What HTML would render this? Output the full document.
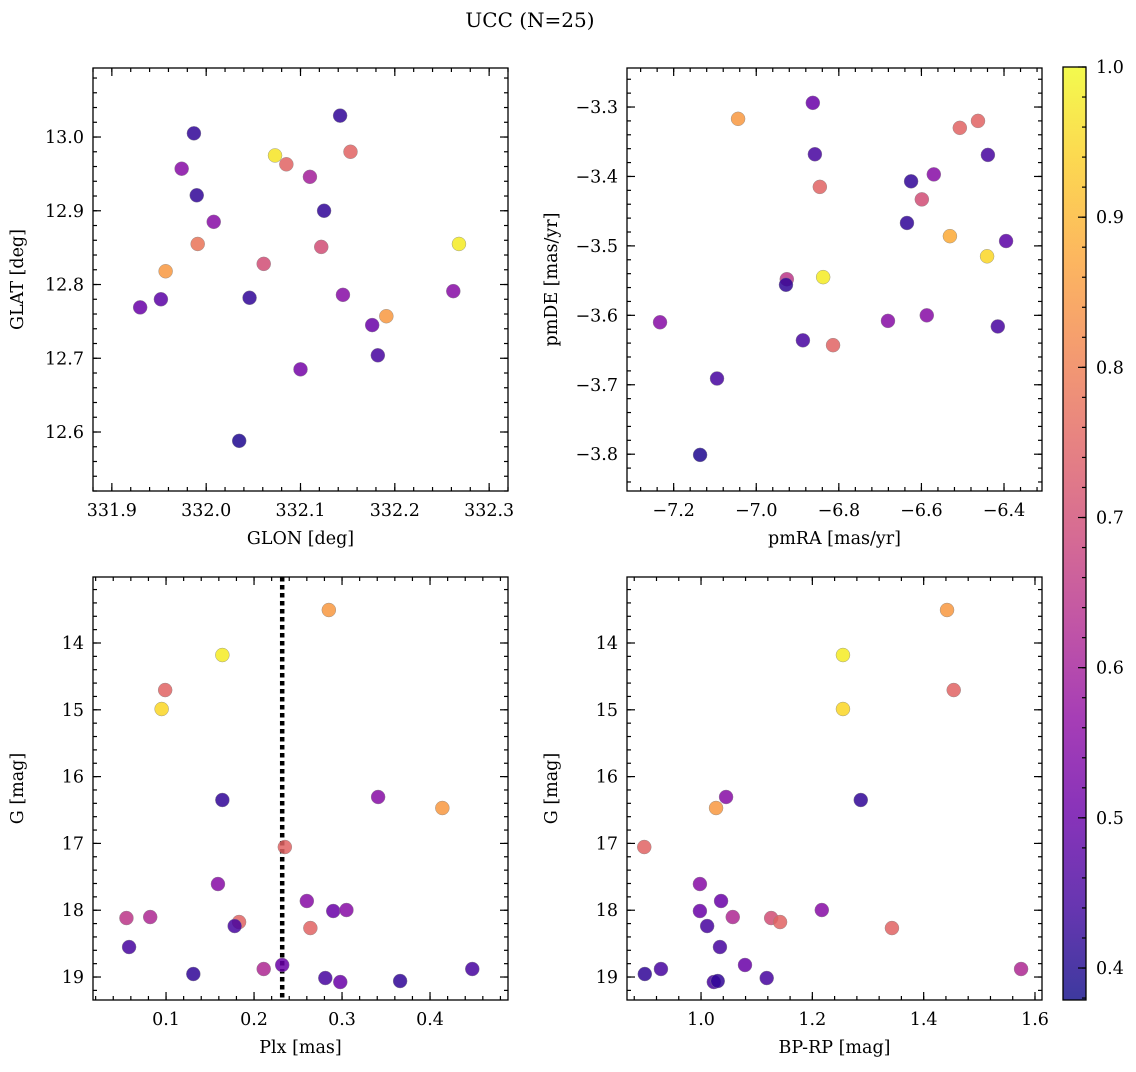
<!DOCTYPE html>
<html><head><meta charset="utf-8">
<style>
html,body{margin:0;padding:0;background:#fff;}
svg text{font-family:"DejaVu Serif","Liberation Serif",serif;fill:#000;}
</style></head>
<body>
<svg id="chart" width="1136" height="1067" viewBox="0 0 1136 1067" xmlns="http://www.w3.org/2000/svg">
<defs>
<linearGradient id="cbgrad" x1="0" y1="1" x2="0" y2="0">
<stop offset="0" stop-color="#0d0887"/><stop offset="0.1" stop-color="#41049d"/><stop offset="0.2" stop-color="#6a00a8"/><stop offset="0.3" stop-color="#8f0da4"/><stop offset="0.4" stop-color="#b12a90"/><stop offset="0.5" stop-color="#cc4778"/><stop offset="0.6" stop-color="#e16462"/><stop offset="0.7" stop-color="#f2844b"/><stop offset="0.8" stop-color="#fca636"/><stop offset="0.9" stop-color="#fcce25"/><stop offset="1" stop-color="#f0f921"/>
</linearGradient>
</defs>
<text x="530" y="27" font-size="20" text-anchor="middle">UCC (N=25)</text>
</svg>
<script>
// ---- data ----
const glon=[331.987,331.974,331.990,332.008,331.991,331.957,331.930,331.952,332.046,332.035,332.073,332.085,332.110,332.061,332.100,332.142,332.153,332.125,332.122,332.145,332.176,332.182,332.191,332.268,332.262];
const glat=[13.005,12.957,12.921,12.885,12.855,12.818,12.769,12.780,12.782,12.588,12.975,12.963,12.946,12.828,12.685,13.029,12.980,12.900,12.851,12.786,12.745,12.704,12.757,12.855,12.791];
const probP1=[0.42,0.55,0.42,0.55,0.78,0.85,0.5,0.48,0.42,0.4,0.97,0.75,0.6,0.7,0.52,0.42,0.75,0.42,0.7,0.55,0.5,0.45,0.85,0.98,0.55];
const pmra=[-6.863,-7.044,-6.858,-6.846,-6.625,-6.570,-6.599,-6.635,-6.507,-6.463,-6.439,-6.531,-6.395,-6.441,-6.838,-6.926,-6.928,-7.233,-6.887,-6.681,-6.587,-6.814,-6.415,-7.095,-7.136];
const pmde=[-3.294,-3.317,-3.368,-3.415,-3.407,-3.397,-3.433,-3.467,-3.330,-3.320,-3.369,-3.486,-3.493,-3.515,-3.545,-3.548,-3.556,-3.610,-3.636,-3.608,-3.600,-3.643,-3.616,-3.691,-3.801];
const probP2=[0.5,0.85,0.45,0.75,0.42,0.55,0.7,0.42,0.75,0.75,0.45,0.88,0.48,0.95,0.98,0.65,0.42,0.55,0.45,0.55,0.55,0.75,0.45,0.45,0.4];
const plx=[0.285,0.164,0.099,0.095,0.164,0.341,0.414,0.235,0.159,0.055,0.082,0.183,0.178,0.260,0.290,0.305,0.264,0.058,0.131,0.211,0.232,0.281,0.298,0.366,0.448];
const gmag3=[13.506,14.180,14.704,14.988,16.350,16.305,16.470,17.054,17.608,18.117,18.102,18.177,18.237,17.862,18.012,17.997,18.267,18.551,18.955,18.880,18.820,19.015,19.075,19.060,18.880];
const probP3=[0.85,0.98,0.75,0.95,0.42,0.55,0.85,0.75,0.55,0.65,0.62,0.75,0.45,0.55,0.5,0.55,0.75,0.45,0.42,0.62,0.5,0.45,0.5,0.42,0.45];
const plxCut=[0.232];
const bprp=[1.442,1.255,1.454,1.255,1.287,1.045,1.027,0.898,0.998,1.126,1.057,1.142,1.011,1.036,0.998,1.217,1.343,1.034,0.899,1.575,1.079,1.118,1.023,1.030,0.928];
const gmag4=[13.506,14.180,14.704,14.988,16.350,16.305,16.470,17.054,17.608,18.117,18.102,18.177,18.237,17.862,18.012,17.997,18.267,18.551,18.955,18.880,18.820,19.015,19.075,19.060,18.880];
const probP4=[0.85,0.98,0.75,0.95,0.42,0.55,0.85,0.75,0.55,0.7,0.62,0.75,0.45,0.5,0.5,0.55,0.75,0.45,0.42,0.62,0.5,0.45,0.45,0.42,0.45];
const cbTicks=[0.4,0.5,0.6,0.7,0.8,0.9,1.0];

const NS="http://www.w3.org/2000/svg";
const svg=document.getElementById('chart');
function mk(tag,attrs,parent){const e=document.createElementNS(NS,tag);for(const k in attrs)e.setAttribute(k,attrs[k]);(parent||svg).appendChild(e);return e;}
const stops=[[13,8,135],[65,4,157],[106,0,168],[143,13,164],[177,42,144],[204,71,120],[225,100,98],[242,132,75],[252,166,54],[252,206,37],[240,249,33]];
const VMIN=0.3787,VMAX=1.0;
function plasma(v){let t=(v-VMIN)/(VMAX-VMIN);t=Math.max(0,Math.min(1,t))*10;const i=Math.min(9,Math.floor(t)),f=t-i;const a=stops[i],b=stops[i+1];return 'rgb('+a.map((c,k)=>Math.round(c+(b[k]-c)*f)).join(',')+')';}
function fmt(v,d){return (v<0?'\u2212':'')+Math.abs(v).toFixed(d);}
const FS=17.5;

function panel(o){
  const {L,T,R,B,xd,yd,inv}=o;
  const sx=v=>L+(v-xd[0])/(xd[1]-xd[0])*(R-L);
  const sy=inv?(v=>T+(v-yd[0])/(yd[1]-yd[0])*(B-T)):(v=>B-(v-yd[0])/(yd[1]-yd[0])*(B-T));
  const g=mk('g',{});
  
  
  function ticks(step,lo,hi,len,isX,label,dec){
    const n0=Math.ceil(lo/step-1e-6),n1=Math.floor(hi/step+1e-6);
    for(let n=n0;n<=n1;n++){const v=n*step;
      if(isX){const x=sx(v);mk('line',{x1:x,y1:B,x2:x,y2:B-len,stroke:'#000','stroke-width':1.2},g);mk('line',{x1:x,y1:T,x2:x,y2:T+len,stroke:'#000','stroke-width':1.2},g);
        if(label){const t=mk('text',{x:x,y:B+25,'font-size':FS,'text-anchor':'middle'},g);t.textContent=fmt(v,dec);}}
      else{const y=sy(v);mk('line',{x1:L,y1:y,x2:L+len,y2:y,stroke:'#000','stroke-width':1.2},g);mk('line',{x1:R,y1:y,x2:R-len,y2:y,stroke:'#000','stroke-width':1.2},g);
        if(label){const t=mk('text',{x:L-9,y:y+6,'font-size':FS,'text-anchor':'end'},g);t.textContent=fmt(v,dec);}}
    }
  }
  const xl=Math.min(...xd),xh=Math.max(...xd),yl=Math.min(...yd),yh=Math.max(...yd);
  ticks(o.xmaj,xl,xh,8,true,true,o.xdec);ticks(o.xmin,xl,xh,4,true,false);
  ticks(o.ymaj,yl,yh,8,false,true,o.ydec);ticks(o.ymin,yl,yh,4,false,false);
  if(o.vline){o.vline.forEach(v=>{const l=mk('line',{x1:sx(v),y1:T,x2:sx(v),y2:B,stroke:'#000','stroke-width':4.5,'stroke-dasharray':'4.5,3.5'},g);});}
  o.x.forEach((xv,i)=>{const c=mk('circle',{cx:sx(xv),cy:sy(o.y[i]),r:7,fill:plasma(o.c[i]),'fill-opacity':0.85,stroke:'#888','stroke-width':0.4},g);
    });
  mk('rect',{x:L,y:T,width:R-L,height:B-T,fill:'none',stroke:'#000','stroke-width':1.3},g);
  const xt=mk('text',{x:(L+R)/2,y:B+53,'font-size':FS,'text-anchor':'middle'},g);xt.textContent=o.xlab;
  
  const yx=L-70,yy=(T+B)/2;
  const yt=mk('text',{x:yx,y:yy,'font-size':FS,'text-anchor':'middle',transform:'rotate(-90 '+yx+' '+yy+')'},g);yt.textContent=o.ylab;
  
}
panel({name:'panel-glon-glat',L:93,T:68,R:508,B:491,xd:[331.880,332.320],yd:[12.520,13.0936],xmaj:0.1,xmin:0.02,ymaj:0.1,ymin:0.02,xdec:1,ydec:1,x:glon,y:glat,c:probP1,xlab:'GLON [deg]',ylab:'GLAT [deg]'});
panel({name:'panel-pm',L:627,T:68,R:1042,B:491,xd:[-7.313,-6.308],yd:[-3.853,-3.2438],xmaj:0.2,xmin:0.04,ymaj:0.1,ymin:0.02,xdec:1,ydec:1,x:pmra,y:pmde,c:probP2,xlab:'pmRA [mas/yr]',ylab:'pmDE [mas/yr]'});
panel({name:'panel-plx-g',L:93,T:577,R:508,B:1000,xd:[0.017,0.4886],yd:[13.012,19.344],inv:true,xmaj:0.1,xmin:0.02,ymaj:1,ymin:0.2,xdec:1,ydec:0,x:plx,y:gmag3,c:probP3,xlab:'Plx [mas]',ylab:'G [mag]',vline:plxCut});
panel({name:'panel-cmd',L:627,T:577,R:1042,B:1000,xd:[0.867,1.6126],yd:[13.012,19.344],inv:true,xmaj:0.2,xmin:0.04,ymaj:1,ymin:0.2,xdec:1,ydec:0,x:bprp,y:gmag4,c:probP4,xlab:'BP-RP [mag]',ylab:'G [mag]'});

const cbL=1063,cbR=1086,cbT=67,cbB=1000;
const cb=mk('g',{});


mk('rect',{x:cbL,y:cbT,width:cbR-cbL,height:cbB-cbT,fill:'url(#cbgrad)','fill-opacity':0.8},cb);
mk('rect',{x:cbL,y:cbT,width:cbR-cbL,height:cbB-cbT,fill:'none',stroke:'#000','stroke-width':1.3},cb);
const cy=v=>cbB-(v-VMIN)/(VMAX-VMIN)*(cbB-cbT);
for(let n=19;n<=50;n++){const v=n*0.02;if(v<VMIN||v>VMAX+1e-6)continue;mk('line',{x1:cbR,y1:cy(v),x2:cbR-4,y2:cy(v),stroke:'#000','stroke-width':1.2},cb);}
cbTicks.forEach(v=>{mk('line',{x1:cbR,y1:cy(v),x2:cbR-8,y2:cy(v),stroke:'#000','stroke-width':1.2},cb);
  const t=mk('text',{x:cbR+10,y:cy(v)+6,'font-size':FS},cb);t.textContent=v.toFixed(1);
  });
</script>
</body></html>
